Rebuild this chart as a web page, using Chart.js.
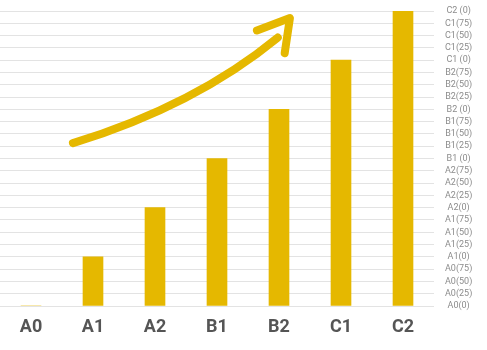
<!DOCTYPE html>
<html>
<head>
<meta charset="utf-8">
<script src="https://cdn.jsdelivr.net/npm/chart.js@4/dist/chart.umd.min.js"></script>
<style>
  html, body { margin: 0; padding: 0; background: #fff; }
  #wrap { width: 487px; height: 350px; }
</style>
</head>
<body>
<div id="wrap"><canvas id="chart"></canvas></div>
<script>
// Níveis no eixo x
const levels = ['A0', 'A1', 'A2', 'B1', 'B2', 'C1', 'C2'];
// Altura das barras (em quartos de nível)
const levelValues = [0, 4, 8, 12, 16, 20, 24];
// Rótulos do eixo y, de baixo para cima
const yTickLabels = [
    'A0(0)', 'A0(25)', 'A0(50)', 'A0(75)',
    'A1(0)', 'A1(25)', 'A1(50)', 'A1(75)',
    'A2(0)', 'A2(25)', 'A2(50)', 'A2(75)',
    'B1 (0)', 'B1(25)', 'B1(50)', 'B1(75)',
    'B2 (0)', 'B2(25)', 'B2(50)', 'B2(75)',
    'C1 (0)', 'C1(25)', 'C1(50)', 'C1(75)',
    'C2 (0)'
];

const gold = '#E5B800';

// Seta de progresso desenhada sobre o gráfico
const arrowPlugin = {
    id: 'arrow',
    afterDatasetsDraw(chart) {
        const ctx = chart.ctx;
        const a = chart.chartArea;
        const w = a.right - a.left;
        const h = a.bottom - a.top;
        const px = f => a.left + f * w;
        const py = f => a.top + f * h;
        ctx.save();
        ctx.strokeStyle = gold;
        ctx.lineWidth = 8;
        ctx.lineCap = 'round';
        ctx.lineJoin = 'round';
        ctx.beginPath();
        ctx.moveTo(px(0.168), py(0.448));
        ctx.quadraticCurveTo(px(0.45), py(0.32), px(0.64), py(0.09));
        ctx.stroke();
        ctx.beginPath();
        ctx.moveTo(px(0.592), py(0.066));
        ctx.lineTo(px(0.668), py(0.024));
        ctx.lineTo(px(0.656), py(0.143));
        ctx.stroke();
        ctx.restore();
    }
};

new Chart(document.getElementById('chart').getContext('2d'), {
    type: 'bar',
    data: {
        labels: levels,
        datasets: [{
            data: levelValues,
            backgroundColor: gold,
            borderWidth: 0,
            barThickness: 20
        }]
    },
    options: {
        responsive: true,
        maintainAspectRatio: false,
        animation: false,
        layout: { padding: { top: 11, bottom: 0, left: 0, right: 0 } },
        plugins: {
            legend: { display: false },
            tooltip: { enabled: false }
        },
        scales: {
            x: {
                grid: { display: false, drawTicks: false },
                border: { display: false },
                afterFit(scale) { scale.height = 44; },
                ticks: {
                    padding: 11,
                    color: '#555',
                    font: { family: 'Roboto', size: 18, weight: 'bold' }
                }
            },
            y: {
                position: 'right',
                min: 0,
                max: 24,
                grid: { color: '#e3e3e3', lineWidth: 1, drawTicks: false },
                border: { display: false },
                afterFit(scale) {
                    scale.width = 53;
                    scale.paddingTop = 0;
                    scale.paddingBottom = 0;
                },
                ticks: {
                    stepSize: 1,
                    autoSkip: false,
                    padding: 11,
                    crossAlign: 'center',
                    color: '#8c8c8c',
                    font: { family: 'Roboto', size: 9 },
                    callback: v => yTickLabels[v]
                }
            }
        }
    },
    plugins: [arrowPlugin]
});
</script>
</body>
</html>
